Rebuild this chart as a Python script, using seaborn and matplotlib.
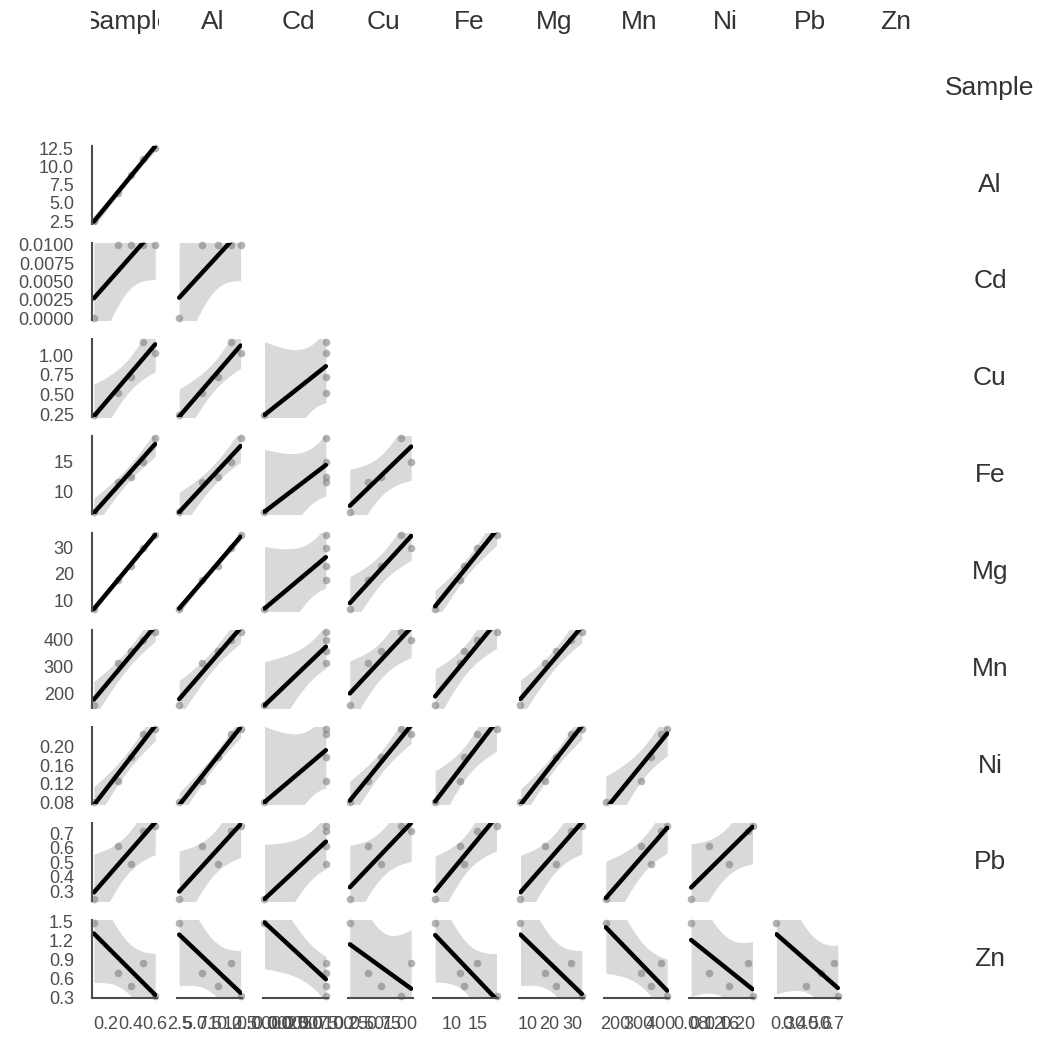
import numpy as np
import pandas as pd
import seaborn as sns
import matplotlib.pyplot as plt
from matplotlib.transforms import Bbox, TransformedBbox

# values, one entry per sample (5 samples)
sample = [0.1, 0.3, 0.4, 0.5, 0.6]
al = [2.5, 6.3, 8.8, 11.0, 12.5]
cd = [0.0, 0.01, 0.01, 0.01, 0.01]
cu = [0.24, 0.52, 0.72, 1.17, 1.02]
fe = [6.7, 11.5, 12.4, 14.8, 18.7]
mg = [7.0, 17.8, 23.0, 29.6, 34.4]
mn = [156, 312, 357, 400, 429]
ni = [0.08, 0.126, 0.177, 0.227, 0.238]
pb = [0.25, 0.61, 0.49, 0.715, 0.75]
zn = [1.48, 0.69, 0.49, 0.85, 0.33]

names = ['Sample', 'Al', 'Cd', 'Cu', 'Fe', 'Mg', 'Mn', 'Ni', 'Pb', 'Zn']

# tick labels shown on the outer axes
sample_ticks = ['0.2', '0.4', '0.6']
al_ticks = ['2.5', '5.0', '7.5', '10.0', '12.5']
cd_ticks = ['0.0000', '0.0025', '0.0050', '0.0075', '0.0100']
cu_ticks = ['0.25', '0.50', '0.75', '1.00']
fe_ticks = ['10', '15']
mg_ticks = ['10', '20', '30']
mn_ticks = ['200', '300', '400']
ni_ticks = ['0.08', '0.12', '0.16', '0.20']
pb_ticks = ['0.3', '0.4', '0.5', '0.6', '0.7']
zn_ticks = ['0.3', '0.6', '0.9', '1.2', '1.5']

df = pd.DataFrame({'Sample': sample, 'Al': al, 'Cd': cd, 'Cu': cu, 'Fe': fe,
                   'Mg': mg, 'Mn': mn, 'Ni': ni, 'Pb': pb, 'Zn': zn})
ticks = dict(zip(names, [sample_ticks, al_ticks, cd_ticks, cu_ticks, fe_ticks,
                         mg_ticks, mn_ticks, ni_ticks, pb_ticks, zn_ticks]))

T95 = 3.182  # t quantile, 97.5%, n-2 = 3 dof

sns.set_style('white')
plt.rcParams['font.family'] = ['Liberation Sans', 'DejaVu Sans']

W, H = 1042, 1038
fig, axes = plt.subplots(10, 10, figsize=(W / 100, H / 100), dpi=100)
fig.subplots_adjust(left=92 / W, right=925 / W, bottom=1 - 998 / H, top=1 - 49 / H,
                    wspace=0.312, hspace=0.246)

gray = '#4d4d4d'


def lims(col):
    lo, hi = df[col].min(), df[col].max()
    m = (hi - lo) * 0.03
    return lo - m, hi + m


def ci_band(ax, x, y):
    # analytic confidence band of the OLS fit (like geom_smooth(method='lm'))
    x = np.asarray(x, float)
    y = np.asarray(y, float)
    b, a = np.polyfit(x, y, 1)
    resid = y - (a + b * x)
    s = np.sqrt((resid ** 2).sum() / (len(x) - 2))
    sxx = ((x - x.mean()) ** 2).sum()
    grid = np.linspace(x.min(), x.max(), 100)
    se = s * np.sqrt(1 / len(x) + (grid - x.mean()) ** 2 / sxx)
    yhat = a + b * grid
    ax.fill_between(grid, yhat - T95 * se, yhat + T95 * se, color='black',
                    alpha=0.15, lw=0, zorder=0.5)


n = len(names)
for i in range(n):
    for j in range(n):
        ax = axes[i, j]
        if i <= j:
            ax.axis('off')
            continue
        ci_band(ax, df[names[j]], df[names[i]])
        sns.regplot(data=df, x=names[j], y=names[i], ax=ax, ci=None,
                    scatter_kws={'color': 'gray', 'alpha': 0.6, 's': 30,
                                 'linewidths': 0, 'clip_on': False},
                    line_kws={'color': 'black', 'lw': 3.2})
        ax.set_xlabel('')
        ax.set_ylabel('')
        ax.set_xlim(*lims(names[j]))
        ax.set_ylim(*lims(names[i]))
        for s in ax.spines.values():
            s.set_visible(False)
        ax.tick_params(colors=gray, labelcolor=gray, labelsize=13,
                       length=6, width=1.5, pad=7)
        if j == 0:
            ax.spines['left'].set_visible(True)
            ax.spines['left'].set_color(gray)
            ax.spines['left'].set_linewidth(1.5)
            ax.set_yticks([float(t) for t in ticks[names[i]]])
            ax.set_yticklabels(ticks[names[i]])
        else:
            ax.set_yticks([])
        if i == n - 1:
            ax.spines['bottom'].set_visible(True)
            ax.spines['bottom'].set_color(gray)
            ax.spines['bottom'].set_linewidth(1.5)
            ax.set_xticks([float(t) for t in ticks[names[j]]])
            ax.set_xticklabels(ticks[names[j]])
        else:
            ax.set_xticks([])

# column names on top (clipped to their column), row names on the right
for j in range(n):
    pos = axes[0, j].get_position()
    cx = (pos.x0 + pos.x1) / 2 + 3 / W
    t = fig.text(cx, 1 - 22 / H, names[j], ha='center', va='center',
                 fontsize=19, color='#333333')
    t.set_clip_on(True)
    t.set_clip_box(TransformedBbox(Bbox([[pos.x0 - 1 / W, 0.9], [pos.x1 + 2 / W, 1.0]]),
                                   fig.transFigure))

for i in range(n):
    pos = axes[i, 0].get_position()
    fig.text(990 / W, (pos.y0 + pos.y1) / 2, names[i], ha='center', va='center',
             fontsize=19, color='#333333')

plt.savefig('out.png', dpi=100)
plt.close()
